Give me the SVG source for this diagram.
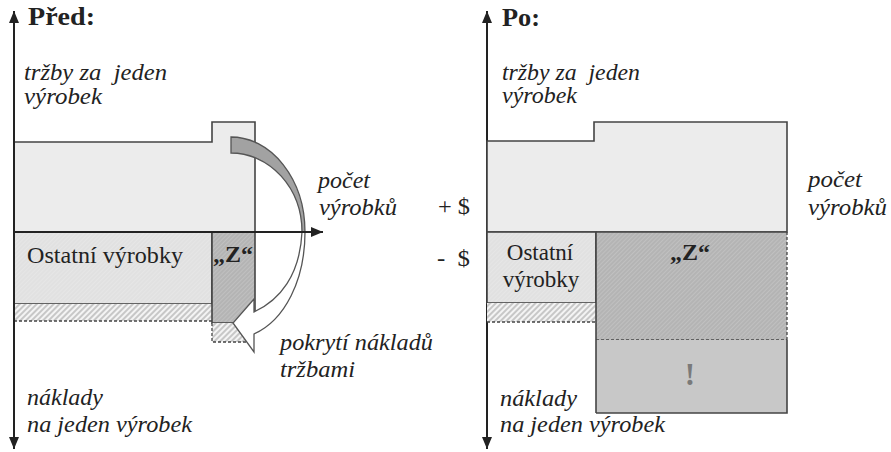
<svg xmlns="http://www.w3.org/2000/svg" width="891" height="452" viewBox="0 0 891 452">
<defs>
<style>
.it{font-family:"Liberation Serif","Times New Roman",serif;font-style:italic;font-size:23px;fill:#222}
.rg{font-family:"Liberation Serif","Times New Roman",serif;font-size:23px;fill:#222}
.bd{font-family:"Liberation Serif","Times New Roman",serif;font-weight:bold;fill:#222}
.ax{stroke:#222;stroke-width:2;fill:none}
.ol{stroke:#444;stroke-width:1.6}
.ln{stroke:#444;stroke-width:1.6;fill:none}
.dash{stroke:#444;stroke-width:1.3;stroke-dasharray:3 2;fill:none}
.up{fill:#ececec}
</style>
<pattern id="hl" width="4" height="4" patternUnits="userSpaceOnUse" patternTransform="rotate(45)">
<rect width="4" height="4" fill="#f4f4f4"/>
<line x1="1" y1="0" x2="1" y2="4" stroke="#9a9a9a" stroke-width="1"/>
</pattern>
<pattern id="hz" width="3" height="3" patternUnits="userSpaceOnUse" patternTransform="rotate(45)">
<rect width="3" height="3" fill="#c0c0c0"/>
<line x1="1" y1="0" x2="1" y2="3" stroke="#a9a9a9" stroke-width="1"/>
</pattern>
<pattern id="ho" width="3" height="3" patternUnits="userSpaceOnUse" patternTransform="rotate(45)">
<rect width="3" height="3" fill="#e6e6e6"/>
<line x1="1" y1="0" x2="1" y2="3" stroke="#dcdcdc" stroke-width="1"/>
</pattern>
<marker id="arr" viewBox="0 0 12 10" refX="12" refY="5" markerWidth="12" markerHeight="10" markerUnits="userSpaceOnUse" orient="auto-start-reverse">
<path d="M0,0 L12,5 L0,10 Z" fill="#222"/>
</marker>
</defs>

<rect width="891" height="452" fill="#ffffff"/>

<!-- LEFT PANEL: Před -->
<g id="left-revenue">
<path class="up ol" d="M14,232 L14,142 L212,142 L212,122 L255,122 L255,232 Z"/>
</g>
<g id="left-ostatni">
<rect x="14" y="232" width="198" height="72" fill="url(#ho)" class="ol"/>
<text class="rg" x="27" y="263" textLength="156" lengthAdjust="spacingAndGlyphs">Ostatní výrobky</text>
</g>
<g id="left-strip">
<rect x="14" y="304" width="198" height="17" fill="url(#hl)"/>
<line class="dash" x1="14" y1="321" x2="212" y2="321"/>
</g>
<g id="left-z">
<rect x="212" y="232" width="43" height="91" fill="url(#hz)" class="ol"/>
<text class="bd" x="213" y="262" font-size="23" textLength="40" lengthAdjust="spacingAndGlyphs">„Z“</text>
</g>
<g id="left-z-strip">
<rect x="212" y="323" width="42" height="19" fill="url(#hl)"/>
<path class="dash" d="M212,323 L212,342 L254,342"/>
</g>

<g id="connectors">
<g id="coverage-arrow">
<path d="M231,137 A74,95 0 0 1 305,232 L302,232 A71,79 0 0 0 231,153 Z" fill="#a2a2a2" stroke="#555" stroke-width="1.3"/>
<path d="M302,232 C300,275 280,300 254,312 L254,299 L233,323 L254,352 L254,334 C285,320 305,280 305,232 Z" fill="#ffffff" stroke="#555" stroke-width="1.3"/>
</g>
<line class="ax" x1="14" y1="449" x2="14" y2="11" marker-start="url(#arr)" marker-end="url(#arr)"/>
<line class="ax" x1="14" y1="232" x2="323" y2="232" marker-end="url(#arr)"/>
<line class="ax" x1="487" y1="449" x2="487" y2="11" marker-start="url(#arr)" marker-end="url(#arr)"/>
</g>

<g id="left-labels">
<text class="bd" x="28" y="25" font-size="25" textLength="67" lengthAdjust="spacingAndGlyphs">Před:</text>
<text class="it" x="24" y="80" xml:space="preserve" textLength="143" lengthAdjust="spacingAndGlyphs">tržby za  jeden</text>
<text class="it" x="24" y="104" textLength="78" lengthAdjust="spacingAndGlyphs">výrobek</text>
<text class="it" x="318" y="188" textLength="52" lengthAdjust="spacingAndGlyphs">počet</text>
<text class="it" x="319" y="215" textLength="78" lengthAdjust="spacingAndGlyphs">výrobků</text>
<text class="it" x="280" y="350" textLength="153" lengthAdjust="spacingAndGlyphs">pokrytí nákladů</text>
<text class="it" x="280" y="377" textLength="75" lengthAdjust="spacingAndGlyphs">tržbami</text>
<text class="it" x="27" y="405" textLength="76" lengthAdjust="spacingAndGlyphs">náklady</text>
<text class="it" x="27" y="432" textLength="165" lengthAdjust="spacingAndGlyphs">na jeden výrobek</text>
</g>

<g id="sign-labels">
<text class="rg" x="438" y="214" xml:space="preserve" textLength="32" lengthAdjust="spacingAndGlyphs">+ $</text>
<text class="rg" x="437" y="266" xml:space="preserve" textLength="33" lengthAdjust="spacingAndGlyphs">-  $</text>
</g>

<!-- RIGHT PANEL: Po -->
<g id="right-revenue">
<path class="up ol" d="M487,232 L487,141 L594,141 L594,122 L787,122 L787,232 Z"/>
</g>
<g id="right-ostatni">
<rect x="487" y="232" width="109" height="71" fill="url(#ho)" class="ol"/>
<text class="rg" x="540" y="260" text-anchor="middle">Ostatní</text>
<text class="rg" x="541" y="287" text-anchor="middle">výrobky</text>
</g>
<g id="right-strip">
<rect x="487" y="303" width="109" height="19" fill="url(#hl)"/>
<line class="dash" x1="487" y1="322" x2="596" y2="322"/>
</g>
<g id="right-z">
<rect x="596" y="232" width="191" height="108" fill="url(#hz)"/>
<line class="ln" x1="596" y1="232" x2="787" y2="232"/>
<line class="dash" x1="787" y1="232" x2="787" y2="340"/>
<line class="dash" x1="596" y1="340" x2="787" y2="340"/>
<text class="bd" x="690" y="260" font-size="23" text-anchor="middle" textLength="40" lengthAdjust="spacingAndGlyphs">„Z“</text>
</g>
<g id="right-loss">
<rect x="596" y="340" width="191" height="73" fill="#c8c8c8"/>
<path class="ln" d="M787,340 L787,413 L596,413"/>
<line class="ln" x1="596" y1="232" x2="596" y2="413"/>
<text class="bd" x="690" y="385" font-size="31" text-anchor="middle" style="fill:#7a7a7a">!</text>
</g>
<g id="right-labels">
<text class="bd" x="502" y="26" font-size="25" textLength="38" lengthAdjust="spacingAndGlyphs">Po:</text>
<text class="it" x="502" y="80" xml:space="preserve" textLength="138" lengthAdjust="spacingAndGlyphs">tržby za  jeden</text>
<text class="it" x="502" y="103" textLength="75" lengthAdjust="spacingAndGlyphs">výrobek</text>
<text class="it" x="808" y="187" textLength="54" lengthAdjust="spacingAndGlyphs">počet</text>
<text class="it" x="808" y="215" textLength="79" lengthAdjust="spacingAndGlyphs">výrobků</text>
<text class="it" x="500" y="406" textLength="77" lengthAdjust="spacingAndGlyphs">náklady</text>
<text class="it" x="500" y="432" textLength="165" lengthAdjust="spacingAndGlyphs">na jeden výrobek</text>
</g>
</svg>
